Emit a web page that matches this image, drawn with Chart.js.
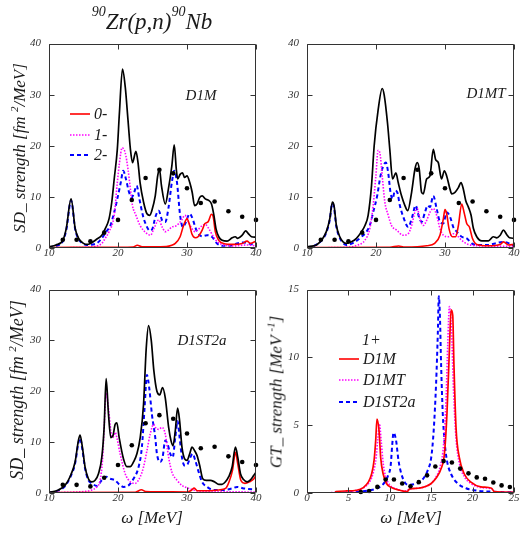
<!DOCTYPE html>
<html><head><meta charset="utf-8">
<script src="https://cdn.jsdelivr.net/npm/chart.js@4.4.1/dist/chart.umd.min.js"></script>
<style>
html,body{margin:0;padding:0;width:520px;height:541px;overflow:hidden;background:#fff;}
.t{position:absolute;white-space:nowrap;font-family:'Liberation Serif','DejaVu Serif',serif;font-style:italic;color:#1a1a1a;}
canvas{position:absolute;}
.row{position:absolute;display:flex;align-items:center;height:20px;white-space:nowrap;font-family:'Liberation Serif','DejaVu Serif',serif;font-style:italic;color:#1a1a1a;}
.row span{margin-left:4px;}
</style></head><body>
<canvas id="c1" width="270" height="240" style="left:0;top:30px"></canvas>
<canvas id="c2" width="270" height="240" style="left:258px;top:30px"></canvas>
<canvas id="c3" width="270" height="240" style="left:0;top:276px"></canvas>
<canvas id="c4" width="270" height="240" style="left:258px;top:276px"></canvas>

<div class="t" style="left:152px;top:10px;font-size:23px;line-height:23px;transform:translateX(-50%);"><span style="font-size:14px;position:relative;top:-13px;">90</span>Zr(p,n)<span style="font-size:14px;position:relative;top:-13px;">90</span>Nb</div>

<div class="t" style="left:20px;top:148px;font-size:17px;line-height:17px;transform:translate(-50%,-50%) rotate(-90deg);">SD_ strength [fm <span style="font-size:11px;position:relative;top:-7px;">2</span>/MeV]</div>
<div class="t" style="left:18px;top:390px;font-size:18px;line-height:18px;transform:translate(-50%,-50%) rotate(-90deg);">SD_ strength [fm <span style="font-size:11px;position:relative;top:-7px;">2</span>/MeV]</div>
<div class="t" style="left:277px;top:392px;font-size:17px;line-height:17px;transform:translate(-50%,-50%) rotate(-90deg);">GT_ strength [MeV <span style="font-size:11px;position:relative;top:-7px;">-1</span>]</div>

<div class="t" style="left:152px;top:517px;font-size:17px;line-height:17px;transform:translate(-50%,-50%);">ω [MeV]</div>
<div class="t" style="left:411px;top:517px;font-size:17px;line-height:17px;transform:translate(-50%,-50%);">ω [MeV]</div>

<div class="t" style="left:201px;top:95px;font-size:15px;line-height:15px;transform:translate(-50%,-50%);">D1M</div>
<div class="t" style="left:486px;top:93px;font-size:15px;line-height:15px;transform:translate(-50%,-50%);">D1MT</div>
<div class="t" style="left:202px;top:340px;font-size:15px;line-height:15px;transform:translate(-50%,-50%);">D1ST2a</div>

<div class="row" style="left:70px;top:104px;font-size:16px;"><svg width="20" height="6"><line x1="0" y1="3" x2="20" y2="3" stroke="#ff0000" stroke-width="1.6"/></svg><span>0-</span></div>
<div class="row" style="left:70px;top:125px;font-size:16px;"><svg width="20" height="6"><line x1="0" y1="3" x2="20" y2="3" stroke="#ff00ff" stroke-width="1.6" stroke-dasharray="1.5 1.5"/></svg><span>1-</span></div>
<div class="row" style="left:70px;top:145px;font-size:16px;"><svg width="20" height="6"><line x1="0" y1="3" x2="20" y2="3" stroke="#0000ff" stroke-width="2" stroke-dasharray="4 3"/></svg><span>2-</span></div>

<div class="t" style="left:362px;top:340px;font-size:16px;line-height:16px;transform:translateY(-50%);">1+</div>
<div class="row" style="left:339px;top:349px;font-size:16px;"><svg width="20" height="6"><line x1="0" y1="3" x2="20" y2="3" stroke="#ff0000" stroke-width="1.6"/></svg><span>D1M</span></div>
<div class="row" style="left:339px;top:370px;font-size:16px;"><svg width="20" height="6"><line x1="0" y1="3" x2="20" y2="3" stroke="#ff00ff" stroke-width="1.6" stroke-dasharray="1.5 1.5"/></svg><span>D1MT</span></div>
<div class="row" style="left:339px;top:392px;font-size:16px;"><svg width="20" height="6"><line x1="0" y1="3" x2="20" y2="3" stroke="#0000ff" stroke-width="2" stroke-dasharray="4 3"/></svg><span>D1ST2a</span></div>

<script>
// ---- tick values ----
const sdXTicks = [10, 20, 30, 40];
const sdYTicks = [0, 10, 20, 30, 40];
const gtXTicks = [0, 5, 10, 15, 20, 25];
const gtYTicks = [0, 5, 10, 15];

// ---- experimental points ----
const sdExpX = [12, 14, 16, 18, 20, 22, 24, 26, 28, 30, 32, 34, 36, 38, 40];
const sdExpY = [1.6, 1.6, 1.3, 3.0, 5.5, 9.4, 13.7, 15.3, 14.6, 11.7, 8.8, 9.1, 7.2, 6.1, 5.5];
const gtExpX = [6.5, 7.5, 8.5, 9.5, 10.5, 11.5, 12.5, 13.5, 14.5, 15.5, 16.5, 17.5, 18.5, 19.5, 20.5, 21.5, 22.5, 23.5, 24.5];
const gtExpY = [0.07, 0.15, 0.45, 1.0, 1.0, 0.7, 0.5, 0.8, 1.3, 1.95, 2.35, 2.25, 1.8, 1.45, 1.15, 1.05, 0.77, 0.56, 0.44];

// ---- D1M SD strength ----
const d1mTotal = [[10,0.25],[11,0.6],[12,1.5],[12.5,3.8],[13.2,9.6],[13.8,3.8],[14.3,1.9],[15,0.9],[15.5,0.7],[16,0.9],[16.9,1.7],[17.65,2.5],[18.15,3.8],[18.7,5.7],[19.1,9.0],[19.45,13.5],[19.9,19.3],[20.2,26.3],[20.65,35.0],[21.05,31.5],[21.45,25.0],[21.8,19.3],[22.1,16.7],[22.6,18.9],[22.9,16.7],[23.2,12.8],[23.7,9.0],[24.2,6.7],[24.6,6.4],[24.9,7.3],[25.4,10.2],[25.75,14.1],[26.0,15.5],[26.3,12.2],[26.85,8.6],[27.3,11.5],[27.8,16.0],[28.15,20.2],[28.45,15.4],[28.65,13.5],[29.0,14.4],[29.35,14.7],[29.65,13.8],[30.0,14.1],[30.4,12.8],[30.75,10.9],[31.1,8.3],[31.45,8.6],[31.85,9.9],[32.2,10.2],[32.65,9.6],[33.15,9.3],[33.55,8.6],[33.9,6.4],[34.2,3.8],[34.6,2.2],[35.1,1.5],[35.8,1.35],[36.55,2.0],[37.0,2.2],[37.35,1.9],[38.0,2.5],[38.5,3.35],[38.95,2.7],[39.35,2.2],[40,2.1]];
const d1m0m = [[10,0.1],[20,0.15],[22.2,0.2],[22.8,0.55],[23.5,0.25],[25,0.25],[27,0.3],[27.8,0.55],[28.3,0.9],[29.0,2.2],[29.5,4.4],[30.0,5.7],[30.4,4.4],[30.7,2.8],[31.2,2.0],[31.6,2.2],[32.2,3.5],[32.6,4.8],[33.05,5.1],[33.55,6.6],[33.8,6.1],[34.1,3.2],[34.6,1.5],[35.3,0.9],[36.8,0.7],[38.0,0.9],[38.7,1.35],[39.2,0.9],[40,1.35]];
const d1m1m = [[10,0.05],[15,0.1],[16.9,0.4],[17.65,0.9],[18.15,1.9],[18.7,3.2],[19.45,6.4],[19.9,12.8],[20.2,16.5],[20.6,19.6],[21.05,18.6],[21.45,15.4],[21.8,11.5],[22.1,8.3],[22.6,6.4],[23.2,4.4],[24.2,2.8],[24.7,2.5],[25.3,4.1],[25.9,5.5],[26.4,4.1],[26.85,3.2],[27.3,3.5],[27.8,4.1],[28.5,4.4],[29.2,5.4],[29.7,6.4],[30.2,5.1],[30.7,3.8],[31.2,3.2],[31.6,3.6],[32.2,4.4],[32.65,4.6],[33.15,3.8],[33.7,2.5],[34.4,1.2],[35.3,0.6],[36.8,0.4],[38.7,0.6],[40,0.4]];
const d1m2m = [[10,0.1],[11,0.4],[12,1.3],[12.5,3.5],[13.2,9.3],[13.8,3.6],[14.3,1.7],[15,0.8],[15.5,0.6],[16.9,0.9],[17.65,1.9],[18.3,3.2],[18.9,4.4],[19.4,6.7],[19.9,9.6],[20.4,12.8],[20.75,15.1],[21.15,13.5],[21.6,10.9],[22.0,9.9],[22.35,10.9],[22.7,12.2],[23.1,9.6],[23.6,6.4],[24.1,4.4],[24.6,3.4],[25.0,3.8],[25.4,6.0],[25.9,7.3],[26.4,5.4],[26.85,5.1],[27.3,7.7],[27.8,12.8],[28.15,15.1],[28.55,12.8],[29.0,6.4],[29.4,4.1],[29.75,4.8],[30.4,6.7],[30.7,6.1],[31.45,3.2],[32.2,2.3],[32.9,2.5],[33.6,2.2],[34.35,0.9],[35.1,0.45],[36.3,0.45],[37.25,0.9],[38.2,1.1],[39.2,0.8],[40,0.6]];

// ---- D1MT SD strength ----
const d1mtTotal = [[10,0.25],[11.35,0.6],[12.1,1.5],[12.8,3.2],[13.3,5.7],[13.68,9.0],[13.92,8.3],[14.26,4.4],[14.75,2.2],[15.23,1.2],[15.7,0.9],[16.45,1.2],[17.17,1.9],[17.9,3.2],[18.4,4.4],[18.86,6.4],[19.35,12.2],[19.73,19.9],[20.31,27.0],[20.9,31.2],[21.19,29.9],[21.67,24.4],[22.0,19.3],[22.4,13.5],[22.88,14.7],[23.22,12.8],[23.7,10.2],[24.19,8.3],[24.6,7.3],[25.16,10.9],[25.64,15.4],[25.98,16.7],[26.27,15.4],[26.6,10.9],[26.85,10.6],[27.34,13.5],[27.82,14.1],[28.3,19.3],[28.64,17.3],[29.03,16.7],[29.5,13.5],[29.9,15.1],[30.24,14.1],[30.73,11.5],[30.97,10.6],[31.45,10.9],[31.94,11.8],[32.32,12.8],[32.66,11.5],[33.0,9.3],[33.39,8.0],[33.78,6.4],[34.12,3.8],[34.6,2.2],[35.33,1.4],[36.3,1.4],[37.0,2.2],[37.5,2.0],[38.0,2.5],[38.47,3.5],[38.96,2.6],[39.35,2.0],[40,1.9]];
const d1mt0m = [[10,0.1],[22,0.15],[23.3,0.4],[24,0.2],[26,0.25],[27.35,0.45],[28.5,0.9],[29.27,2.5],[29.76,5.7],[30.0,7.5],[30.24,6.7],[30.58,3.8],[31.07,2.2],[31.55,2.2],[31.94,4.4],[32.42,8.6],[32.76,7.0],[33.15,4.8],[33.54,4.1],[33.97,1.9],[34.6,0.7],[36.3,0.45],[38.0,0.7],[38.47,1.2],[39.2,0.6],[40,0.7]];
const d1mt1m = [[10,0.05],[15,0.1],[17.4,0.6],[18.38,1.5],[19.1,3.8],[19.59,8.3],[19.98,14.1],[20.31,19.1],[20.56,18.6],[20.94,13.5],[21.28,9.0],[21.77,6.4],[22.25,4.4],[22.98,3.5],[23.95,2.5],[24.67,2.8],[25.16,4.4],[25.64,7.0],[25.98,7.7],[26.37,5.7],[26.85,4.4],[27.34,5.4],[27.82,7.0],[28.3,7.7],[28.79,6.4],[29.27,3.8],[29.76,2.5],[30.48,2.2],[31.2,2.8],[31.7,2.5],[32.42,1.5],[33.39,0.7],[35.33,0.4],[40,0.3]];
const d1mt2m = [[10,0.1],[11,0.4],[12,1.3],[12.8,3.0],[13.3,5.5],[13.65,8.7],[13.9,8.0],[14.25,4.2],[14.75,2.0],[15.2,1.0],[15.71,0.6],[16.93,1.2],[17.9,2.2],[18.62,3.2],[19.1,4.4],[19.59,7.0],[20.17,10.2],[20.65,14.1],[21.04,16.0],[21.43,16.7],[21.77,14.7],[22.1,10.9],[22.4,9.6],[22.74,11.2],[23.08,10.9],[23.46,8.3],[23.95,6.1],[24.67,4.1],[25.25,6.1],[25.74,8.3],[26.22,6.1],[26.6,5.1],[27.1,7.0],[27.48,8.3],[27.82,8.0],[28.3,10.2],[28.79,7.7],[29.27,5.1],[29.76,4.8],[30.24,7.0],[30.73,6.1],[31.2,4.1],[31.7,3.2],[32.42,2.2],[33.15,1.9],[33.87,0.9],[34.84,0.6],[36.3,0.6],[37.26,0.9],[38.47,1.2],[40,0.45]];

// ---- D1ST2a SD strength ----
const d1st2aTotal = [[10,0.1],[11.36,0.6],[12.32,1.5],[13.05,3.2],[13.78,6.1],[14.26,10.3],[14.5,11.4],[14.84,9.0],[15.23,5.1],[15.71,2.8],[16.2,2.2],[16.68,2.5],[17.17,3.8],[17.65,7.0],[17.99,12.9],[18.28,22.5],[18.62,15.5],[18.96,10.9],[19.25,11.2],[19.59,13.5],[19.83,13.8],[20.17,10.9],[20.8,6.7],[21.28,5.2],[21.77,5.2],[22.25,6.1],[22.74,7.7],[23.22,10.9],[23.7,17.4],[24.09,28.4],[24.43,32.9],[24.82,30.0],[25.2,24.0],[25.64,20.0],[26.05,19.3],[26.46,20.7],[26.85,18.7],[27.34,12.9],[27.68,10.3],[27.97,9.3],[28.3,12.2],[28.64,16.7],[28.93,14.2],[29.27,9.0],[29.66,6.7],[30.0,6.4],[30.39,7.7],[30.73,9.0],[31.11,8.3],[31.45,7.4],[31.84,5.4],[32.28,2.8],[32.8,2.5],[33.39,2.5],[33.97,2.2],[34.6,1.7],[35.08,1.7],[35.57,2.2],[36.05,3.2],[36.54,5.1],[37.02,9.0],[37.36,7.0],[37.75,3.8],[38.23,2.6],[38.72,2.2],[39.2,2.6],[39.69,3.5],[40,4.1]];
const d1st2a0m = [[10,0.1],[22.5,0.15],[23.4,0.65],[24,0.3],[26,0.25],[30,0.2],[30.6,0.5],[31.05,0.95],[31.5,0.45],[33.4,0.45],[34.6,0.6],[35.6,0.9],[36.1,2.2],[36.6,4.5],[37.02,8.0],[37.36,5.7],[37.8,2.5],[38.4,1.9],[39.05,2.2],[39.7,2.8],[40,3.5]];
const d1st2a1m = [[10,0.05],[14,0.2],[15.2,0.3],[16.2,0.6],[16.93,1.2],[17.41,2.5],[17.75,6.4],[18.04,14.1],[18.28,19.6],[18.62,16.7],[18.96,12.2],[19.25,10.9],[19.59,11.9],[19.83,10.9],[20.31,7.7],[21.04,3.8],[21.77,2.2],[22.5,1.9],[23.22,3.2],[23.7,5.1],[24.19,8.3],[24.67,11.6],[25.16,13.5],[25.4,12.9],[25.88,12.5],[26.37,12.9],[26.85,11.6],[27.34,7.0],[27.82,4.1],[28.55,2.5],[29.27,1.5],[30.24,0.9],[31.45,0.45],[32.9,0.3],[40,0.2]];
const d1st2a2m = [[10,0.1],[11.4,0.5],[12.3,1.3],[13.05,3.0],[13.78,5.8],[14.26,9.8],[14.5,10.8],[14.84,8.5],[15.23,4.8],[15.71,2.5],[16.2,1.9],[16.93,1.4],[17.65,2.5],[18.28,3.2],[18.86,2.8],[19.59,2.5],[20.17,1.7],[20.8,1.2],[21.53,1.5],[22.25,2.8],[22.98,5.1],[23.46,9.0],[23.85,16.7],[24.19,23.2],[24.53,20.6],[24.92,15.4],[25.4,10.9],[25.64,7.7],[26.13,6.1],[26.46,7.0],[26.85,10.3],[27.19,9.6],[27.58,7.7],[27.92,7.0],[28.3,10.9],[28.64,14.1],[28.93,10.9],[29.27,7.0],[29.66,5.4],[30.1,5.7],[30.48,7.0],[30.82,7.7],[31.2,6.4],[31.7,4.1],[32.18,2.2],[32.9,1.2],[33.87,0.6],[35.33,0.6],[36.54,0.9],[37.26,1.2],[38.23,0.9],[40,0.7]];

// ---- GT strength (1+) ----
const gtD1M = [[0,0],[3.4,0.02],[3.5,0.1],[4.75,0.15],[6.0,0.2],[6.8,0.4],[7.4,0.8],[7.8,1.4],[8.1,2.4],[8.3,3.9],[8.45,5.45],[8.7,4.6],[8.9,2.6],[9.2,1.4],[9.6,0.7],[10.2,0.4],[11.2,0.2],[12.1,0.1],[12.4,0.3],[13.4,0.35],[14.4,0.5],[15.0,0.7],[15.6,1.1],[16.2,1.8],[16.6,2.9],[16.9,5.8],[17.2,10.6],[17.4,13.5],[17.6,13.1],[17.75,9.4],[18.0,4.8],[18.4,2.6],[19.0,1.4],[19.8,0.8],[21.0,0.45],[22.3,0.35],[22.6,0.1],[25,0.05]];
const gtD1MT = [[0,0],[4,0.05],[5,0.1],[6,0.2],[7,0.45],[7.6,0.85],[8.0,1.5],[8.35,2.6],[8.55,4.0],[8.75,5.1],[8.95,3.9],[9.2,2.2],[9.5,1.2],[10.0,0.6],[10.8,0.3],[12,0.15],[12.4,0.3],[13.4,0.35],[14.4,0.5],[15.0,0.7],[15.6,1.2],[16.1,2.0],[16.5,3.6],[16.8,7.0],[17.0,11.0],[17.2,13.75],[17.45,12.0],[17.7,7.5],[18.0,4.0],[18.4,2.2],[19.0,1.2],[19.8,0.7],[21.0,0.4],[22.3,0.3],[22.6,0.1],[25,0.05]];
const gtD1ST2a = [[0,0],[4.3,0.02],[6,0.1],[7.6,0.2],[8.8,0.45],[9.4,0.8],[9.8,1.3],[10.1,2.0],[10.3,3.6],[10.45,4.45],[10.75,3.9],[11.05,2.4],[11.4,1.4],[11.8,0.8],[12.2,0.6],[13.0,0.65],[13.6,0.8],[14.2,1.2],[14.6,1.7],[15.0,2.6],[15.3,4.6],[15.6,8.2],[15.8,11.8],[15.92,14.5],[16.05,13.1],[16.2,9.4],[16.4,5.8],[16.6,3.9],[16.9,2.4],[17.4,1.4],[18.2,0.7],[19.2,0.35],[20.6,0.17],[22.3,0.1],[25,0.05]];

// ---- styles ----
const RED = '#ff0000', MAG = '#ff00ff', BLUE = '#0000ff', BLK = '#000000';
const FONT = "'Liberation Serif','DejaVu Serif',serif";

const framePlugin = {
  id: 'frame',
  afterDraw(chart) {
    const {ctx, chartArea: a, scales} = chart;
    const xs = scales.x, ys = scales.y;
    const L = Math.round(a.left) + 0.5, R = Math.round(a.right) - 0.5;
    const T = Math.round(a.top) + 0.5, B = Math.round(a.bottom) - 0.5;
    ctx.save();
    ctx.strokeStyle = '#333';
    ctx.lineWidth = 1;
    ctx.beginPath();
    ctx.rect(L, T, R - L, B - T);
    const len = 5;
    xs.ticks.forEach(t => {
      const p = Math.round(xs.getPixelForValue(t.value)) + 0.5;
      ctx.moveTo(p, B); ctx.lineTo(p, B - len);
      ctx.moveTo(p, T); ctx.lineTo(p, T + len);
    });
    ys.ticks.forEach(t => {
      const p = Math.round(ys.getPixelForValue(t.value)) + 0.5;
      ctx.moveTo(L, p); ctx.lineTo(L + len, p);
      ctx.moveTo(R, p); ctx.lineTo(R - len, p);
    });
    ctx.stroke();
    ctx.restore();
  }
};

function pts(arr) { return arr.map(p => ({x: p[0], y: p[1]})); }
function lineDs(arr, color, width, dash, order) {
  return {data: pts(arr), borderColor: color, borderWidth: width, borderDash: dash,
    pointRadius: 0, fill: false, cubicInterpolationMode: 'monotone', order: order};
}
function dotDs(xs, ys) {
  return {data: xs.map((x, i) => ({x: x, y: ys[i]})), showLine: false, pointRadius: 2.3,
    pointBackgroundColor: BLK, pointBorderWidth: 0, borderColor: BLK, clip: false, order: 0};
}
function axis(ticksArr, isX, xh) {
  const o = {
    type: 'linear', min: ticksArr[0], max: ticksArr[ticksArr.length - 1],
    afterBuildTicks: s => { s.ticks = ticksArr.map(v => ({value: v})); },
    ticks: {padding: isX ? 0 : 8, color: '#333', font: {family: FONT, style: 'italic', size: 11, lineHeight: 1}},
    grid: {display: false, drawTicks: false},
    border: {display: false}
  };
  o.afterFit = isX ? (s => { s.height = xh; }) : (s => { s.width = 49; });
  return o;
}
function makeChart(id, datasets, xt, yt, xh) {
  new Chart(document.getElementById(id), {
    type: 'line',
    data: {datasets: datasets},
    options: {
      responsive: false, animation: false, events: [],
      layout: {padding: {left: 0, top: 11, right: 14, bottom: 0}},
      plugins: {legend: {display: false}, tooltip: {enabled: false}, title: {display: false}},
      scales: {x: axis(xt, true, xh), y: axis(yt, false)}
    },
    plugins: [framePlugin]
  });
}

makeChart('c1', [
  dotDs(sdExpX, sdExpY),
  lineDs(d1mTotal, BLK, 1.7, [], 1),
  lineDs(d1m0m, RED, 1.6, [], 2),
  lineDs(d1m1m, MAG, 1.6, [1.5, 1.5], 3),
  lineDs(d1m2m, BLUE, 2, [4, 3], 4)
], sdXTicks, sdYTicks, 22);

makeChart('c2', [
  dotDs(sdExpX, sdExpY),
  lineDs(d1mtTotal, BLK, 1.7, [], 1),
  lineDs(d1mt0m, RED, 1.6, [], 2),
  lineDs(d1mt1m, MAG, 1.6, [1.5, 1.5], 3),
  lineDs(d1mt2m, BLUE, 2, [4, 3], 4)
], sdXTicks, sdYTicks, 22);

makeChart('c3', [
  dotDs(sdExpX, sdExpY),
  lineDs(d1st2aTotal, BLK, 1.7, [], 1),
  lineDs(d1st2a0m, RED, 1.6, [], 2),
  lineDs(d1st2a1m, MAG, 1.6, [1.5, 1.5], 3),
  lineDs(d1st2a2m, BLUE, 2, [4, 3], 4)
], sdXTicks, sdYTicks, 23);

makeChart('c4', [
  dotDs(gtExpX, gtExpY),
  lineDs(gtD1M, RED, 1.7, [], 2),
  lineDs(gtD1MT, MAG, 1.6, [1.5, 1.5], 3),
  lineDs(gtD1ST2a, BLUE, 2, [4, 3], 4)
], gtXTicks, gtYTicks, 23);
</script>
</body></html>
